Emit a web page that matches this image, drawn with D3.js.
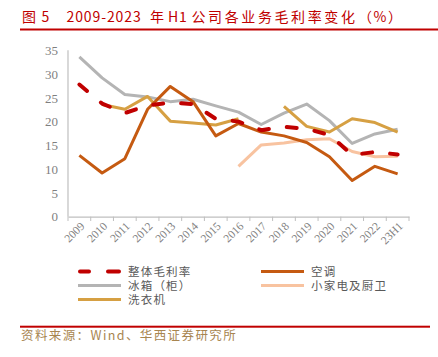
<!DOCTYPE html>
<html><head><meta charset="utf-8">
<script src="https://cdn.jsdelivr.net/npm/d3@7"></script>
<style>body{margin:0;background:#fff;}svg{display:block;}</style>
</head><body>
<script>
const categories = ["2009","2010","2011","2012","2013","2014","2015","2016","2017","2018","2019","2020","2021","2022","23H1"];
const overall   = [27.8,23.8,21.8,23.4,24.0,23.7,20.6,20.0,18.2,18.9,18.5,17.2,13.0,13.6,13.1];
const aircon    = [12.9,9.2,12.2,22.6,27.4,24.2,17.0,19.6,17.8,17.0,15.6,12.6,7.6,10.6,9.0];
const fridge    = [33.6,29.2,25.7,25.2,24.2,24.7,23.3,22.0,19.4,21.8,23.7,20.2,15.4,17.4,18.4];
const washer    = [null,23.6,22.6,25.3,20.1,19.7,19.3,20.6,null,23.2,19.0,17.8,20.6,19.8,17.8];
const smallApp  = [null,null,null,null,null,null,null,10.6,15.1,15.5,16.2,16.4,13.7,12.6,12.7];
const yTicks = [0,5,10,15,20,25,30,35];

const seriesNames = ["整体毛利率","空调","冰箱（柜）","小家电及厨卫","洗衣机"];
const seriesData = [overall, aircon, fridge, smallApp, washer];
const colors = ["#C00000","#C55A11","#B4B4B4","#F8C3A0","#D6A043"];

const W=438,H=357;
const svg=d3.select("body").append("svg").attr("width",W).attr("height",H);
const cjk='"Noto Sans CJK SC","Noto Sans",sans-serif';
const serif='"Liberation Serif","DejaVu Serif",serif';

// title (segments placed to match spacing)
const titleParts=[["图",22,0],["5",41.5,0],["2009-2023",66.5,0.9],["年",150,0],["H1",168,0.8],["公司各业务毛利率变化",191.5,2.6],["（%）",358,1.5]];
const tt=svg.append("text").attr("y",22).attr("fill","#C00000").attr("font-family",cjk).attr("font-size",14);
titleParts.forEach(([s,px,ls])=>tt.append("tspan").attr("x",px).attr("letter-spacing",ls).text(s));
svg.append("rect").attr("x",20).attr("y",28.5).attr("width",418).attr("height",2).attr("fill","#C00000");

const x=d3.scaleBand().domain(categories).range([68,409]);
const y=d3.scaleLinear().domain([0,35]).range([216.7,50.3]);

// y axis
const ya=svg.append("g").attr("transform","translate(68,0)")
  .call(d3.axisLeft(y).tickValues(yTicks).tickSize(0).tickPadding(10));
ya.select(".domain").attr("stroke","#BFBFBF").attr("stroke-width",1.2).attr("d","M0,50.3V216.7");
ya.selectAll("text").attr("font-family",serif).attr("font-size",13).attr("fill","#7F7F7F");

// x axis
const xa=svg.append("g").attr("transform","translate(0,216.7)")
  .call(d3.axisBottom(x).tickSize(0).tickFormat(()=>"")); 
xa.select(".domain").attr("stroke","#BFBFBF").attr("stroke-width",1.2);
const bounds=categories.map(c=>x(c)).concat([x.range()[1]]);
svg.append("g").selectAll("line").data(bounds).join("line")
  .attr("x1",d=>d).attr("x2",d=>d).attr("y1",216.7).attr("y2",221).attr("stroke","#BFBFBF").attr("stroke-width",1);
svg.append("g").selectAll("text").data(categories).join("text")
  .attr("transform",d=>`translate(${x(d)+x.bandwidth()/2+3},${224}) rotate(-45)`)
  .attr("text-anchor","end").attr("dy","0.35em")
  .attr("font-family",serif).attr("font-size",11.5).attr("fill","#7F7F7F").text(d=>d);

// lines
const line=d3.line().defined(d=>d!=null).x((d,i)=>x(categories[i])+x.bandwidth()/2).y(d=>y(d));
const order=[2,4,3,1,0];
order.forEach(k=>{
  svg.append("path").datum(seriesData[k]).attr("d",line).attr("fill","none")
    .attr("stroke",colors[k]).attr("stroke-width",k===0?4:3)
    .attr("stroke-linejoin","round")
    .attr("stroke-linecap",k===0?"round":"butt")
    .attr("stroke-dasharray",k===0?"10,18":null);
});

// legend
const legPos=[[78,271.5],[261,271.5],[78,285.5],[261,285.5],[78,299.5]];
seriesNames.forEach((n,k)=>{
  const [lx,ly]=legPos[k];
  const g=svg.append("g");
  if(k===0){
    g.append("line").attr("x1",lx+2).attr("x2",lx+11).attr("y1",ly).attr("y2",ly).attr("stroke",colors[k]).attr("stroke-width",4).attr("stroke-linecap","round");
    g.append("line").attr("x1",lx+30).attr("x2",lx+41).attr("y1",ly).attr("y2",ly).attr("stroke",colors[k]).attr("stroke-width",4).attr("stroke-linecap","round");
  } else {
    g.append("line").attr("x1",lx).attr("x2",lx+43).attr("y1",ly).attr("y2",ly).attr("stroke",colors[k]).attr("stroke-width",3);
  }
  g.append("text").attr("x",lx+50).attr("y",ly).attr("dy","0.35em")
    .attr("font-family",cjk).attr("font-size",11.5).attr("fill","#595959").attr("letter-spacing",1.2).text(n);
});

// footer
svg.append("rect").attr("x",20).attr("y",325.7).attr("width",410).attr("height",2).attr("fill","#C00000");
svg.append("text").attr("x",21).attr("y",336).attr("dy","0.35em").attr("fill","#A88550")
  .attr("font-family",cjk).attr("font-size",12.5).attr("letter-spacing",1.4).text("资料来源：Wind、华西证券研究所");
</script>
</body></html>
